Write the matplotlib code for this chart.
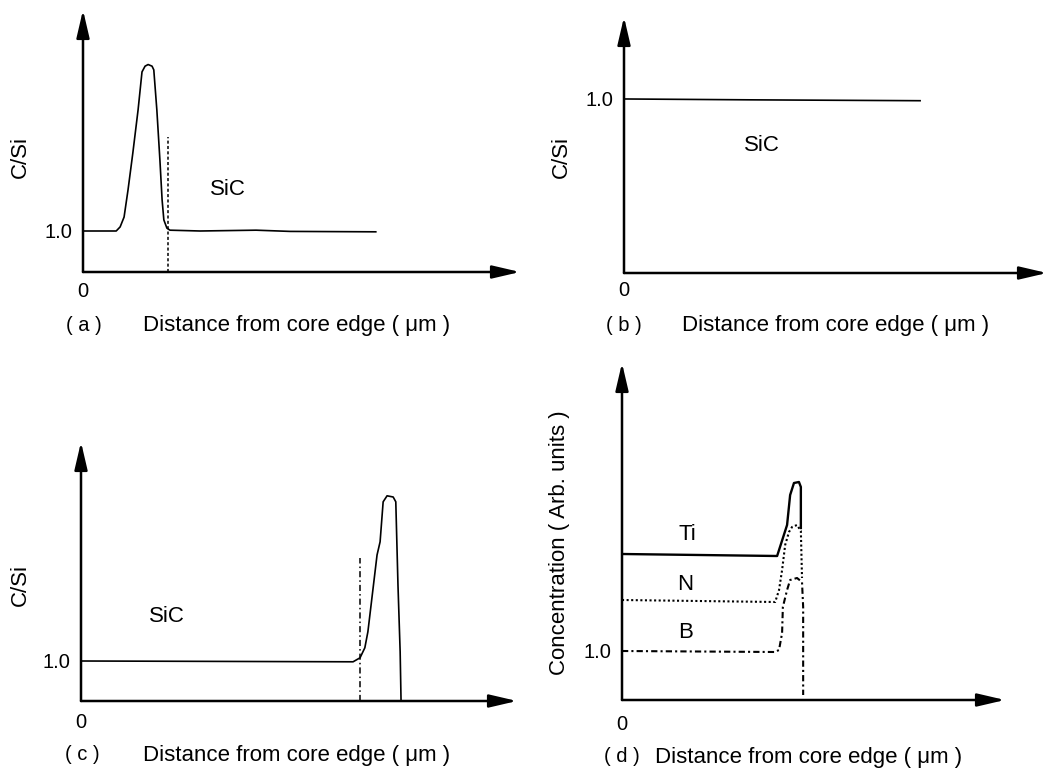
import matplotlib
matplotlib.use("Agg")
import matplotlib.pyplot as plt

plt.rcParams['font.family'] = ['Liberation Sans', 'DejaVu Sans']

W, H = 1054, 771

# panel (a): C/Si profile, peak near the core edge
a_x = [0, 7.6, 8.5, 9.4, 10.3, 11.4, 12.6, 13.5, 14.2, 14.9, 15.8, 16.2, 16.9, 17.6, 18.1, 18.5, 19.2, 19.9, 26.8, 39.6, 47.4, 67.0]
a_y = [1.0, 1.0, 1.10, 1.34, 2.0, 2.90, 3.95, 4.88, 5.02, 5.06, 5.02, 4.93, 3.95, 2.73, 1.76, 1.27, 1.07, 1.02, 1.0, 1.02, 0.99, 0.98]
a_iface_x = 19.5
a_iface_top = 3.3

# panel (b): flat stoichiometric SiC
b_x = [0, 30, 70]
b_y = [1.0, 0.995, 0.99]

# panel (c): peak at outer surface
c_x = [0, 62.4, 64.0, 65.1, 65.8, 67.9, 68.6, 69.3, 70.2, 71.6, 72.2, 72.7, 73.2, 73.4]
c_y = [1.0, 0.98, 1.08, 1.33, 1.73, 3.65, 3.98, 4.98, 5.13, 5.1, 4.98, 2.9, 1.23, 0.03]
c_iface_x = 64.0
c_iface_top = 3.58

# panel (d): Ti, N, B concentration profiles
ti_x = [0, 40.5, 43.1, 43.9, 44.9, 46.2, 46.7, 46.7]
ti_y = [2.92, 2.88, 3.5, 4.1, 4.34, 4.36, 4.26, 3.44]
n_x = [0, 40.0, 41.0, 41.8, 42.6, 43.6, 44.4, 45.7, 46.7, 47.0]
n_y = [2.0, 1.96, 2.2, 2.6, 3.1, 3.36, 3.46, 3.5, 3.38, 2.44]
b2_x = [0, 39.9, 41.0, 41.8, 42.0, 43.1, 43.9, 45.7, 47.0, 47.3, 47.3]
b2_y = [0.98, 0.96, 1.0, 1.34, 1.86, 2.2, 2.4, 2.44, 2.36, 1.86, 0.1]

xlabel = 'Distance from core edge ( \u03bcm )'
fs_tick = 14.5
fs = 16


def box(l, r, b, t):
    return [l / W, 1 - b / H, (r - l) / W, (b - t) / H]


def setup(ax, ymax, ylab, ylab_xy, zero_pad, tag, tag_x, lab_x, lab_y):
    ax.set_xlim(0, 100)
    ax.set_ylim(0, ymax)
    for s in ax.spines.values():
        s.set_visible(False)
    # axes drawn as arrows
    ax.annotate('', xy=(0, 1), xytext=(0, 0), xycoords='axes fraction',
                arrowprops=dict(arrowstyle='-|>,head_length=1.2,head_width=0.28',
                                lw=1.8, color='k', shrinkA=0, shrinkB=0, mutation_scale=14))
    ax.annotate('', xy=(1, 0), xytext=(0, 0), xycoords='axes fraction',
                arrowprops=dict(arrowstyle='-|>,head_length=1.2,head_width=0.28',
                                lw=1.8, color='k', shrinkA=0, shrinkB=0, mutation_scale=14))
    ax.set_yticks([1.0])
    ax.set_yticklabels(['1.0'], fontsize=fs_tick)
    ax.set_xticks([0])
    ax.set_xticklabels(['0'], fontsize=fs_tick)
    ax.tick_params(axis='y', length=0, pad=7.5)
    ax.tick_params(axis='x', length=0, pad=zero_pad)
    ax.text(ylab_xy[0], ylab_xy[1], ylab, rotation=90, ha='center', va='center',
            fontsize=fs, transform=ax.transAxes)
    fig.text(tag_x / W, 1 - lab_y / H, tag, ha='center', va='center', fontsize=fs_tick)
    fig.text(lab_x / W, 1 - lab_y / H, xlabel, ha='left', va='center', fontsize=fs)


fig = plt.figure(figsize=(W / 100, H / 100), dpi=100)

# (a)
ax = fig.add_axes(box(83, 520, 272, 10))
ax.plot(a_x, a_y, color='k', lw=1.2)
ax.plot([a_iface_x, a_iface_x], [0, a_iface_top], color='k', lw=1.1, linestyle=(0, (2, 1.5)))
ax.text(33.2, 2.0, 'SiC', fontsize=fs, ha='center', va='center')
setup(ax, 6.39, 'C/Si', (-0.144, 0.44), 7, '( a )', 84, 143, 325)

# (b)
ax = fig.add_axes(box(624, 1047, 273, 17))
ax.plot(b_x, b_y, color='k', lw=1.2)
ax.text(32.6, 0.735, 'SiC', fontsize=fs, ha='center', va='center')
setup(ax, 1.471, 'C/Si', (-0.147, 0.453), 6, '( b )', 624, 682, 325)

# (c)
ax = fig.add_axes(box(81, 517, 701, 442))
ax.plot(c_x, c_y, color='k', lw=1.2)
ax.plot([c_iface_x, c_iface_x], [0, c_iface_top], color='k', lw=1.1, linestyle=(0, (4, 2, 1, 2)))
ax.text(19.7, 2.1, 'SiC', fontsize=fs, ha='center', va='center')
setup(ax, 6.475, 'C/Si', (-0.14, 0.448), 9, '( c )', 82, 143, 755)

# (d)
ax = fig.add_axes(box(622, 1005, 700, 363))
ax.plot(ti_x, ti_y, color='k', lw=1.7)
ax.plot(n_x, n_y, color='k', lw=1.5, linestyle=(0, (1, 1.2)))
ax.plot(b2_x, b2_y, color='k', lw=1.5, linestyle=(0, (3, 1.5, 1, 1.5)))
ax.text(17.0, 3.3, 'Ti', fontsize=fs, ha='center', va='center')
ax.text(16.5, 2.3, 'N', fontsize=fs, ha='center', va='center')
ax.text(16.5, 1.34, 'B', fontsize=fs, ha='center', va='center')
setup(ax, 6.74, 'Concentration ( Arb. units )', (-0.164, 0.466), 11, '( d )', 622, 655, 757)

fig.savefig('out.png', dpi=100)
